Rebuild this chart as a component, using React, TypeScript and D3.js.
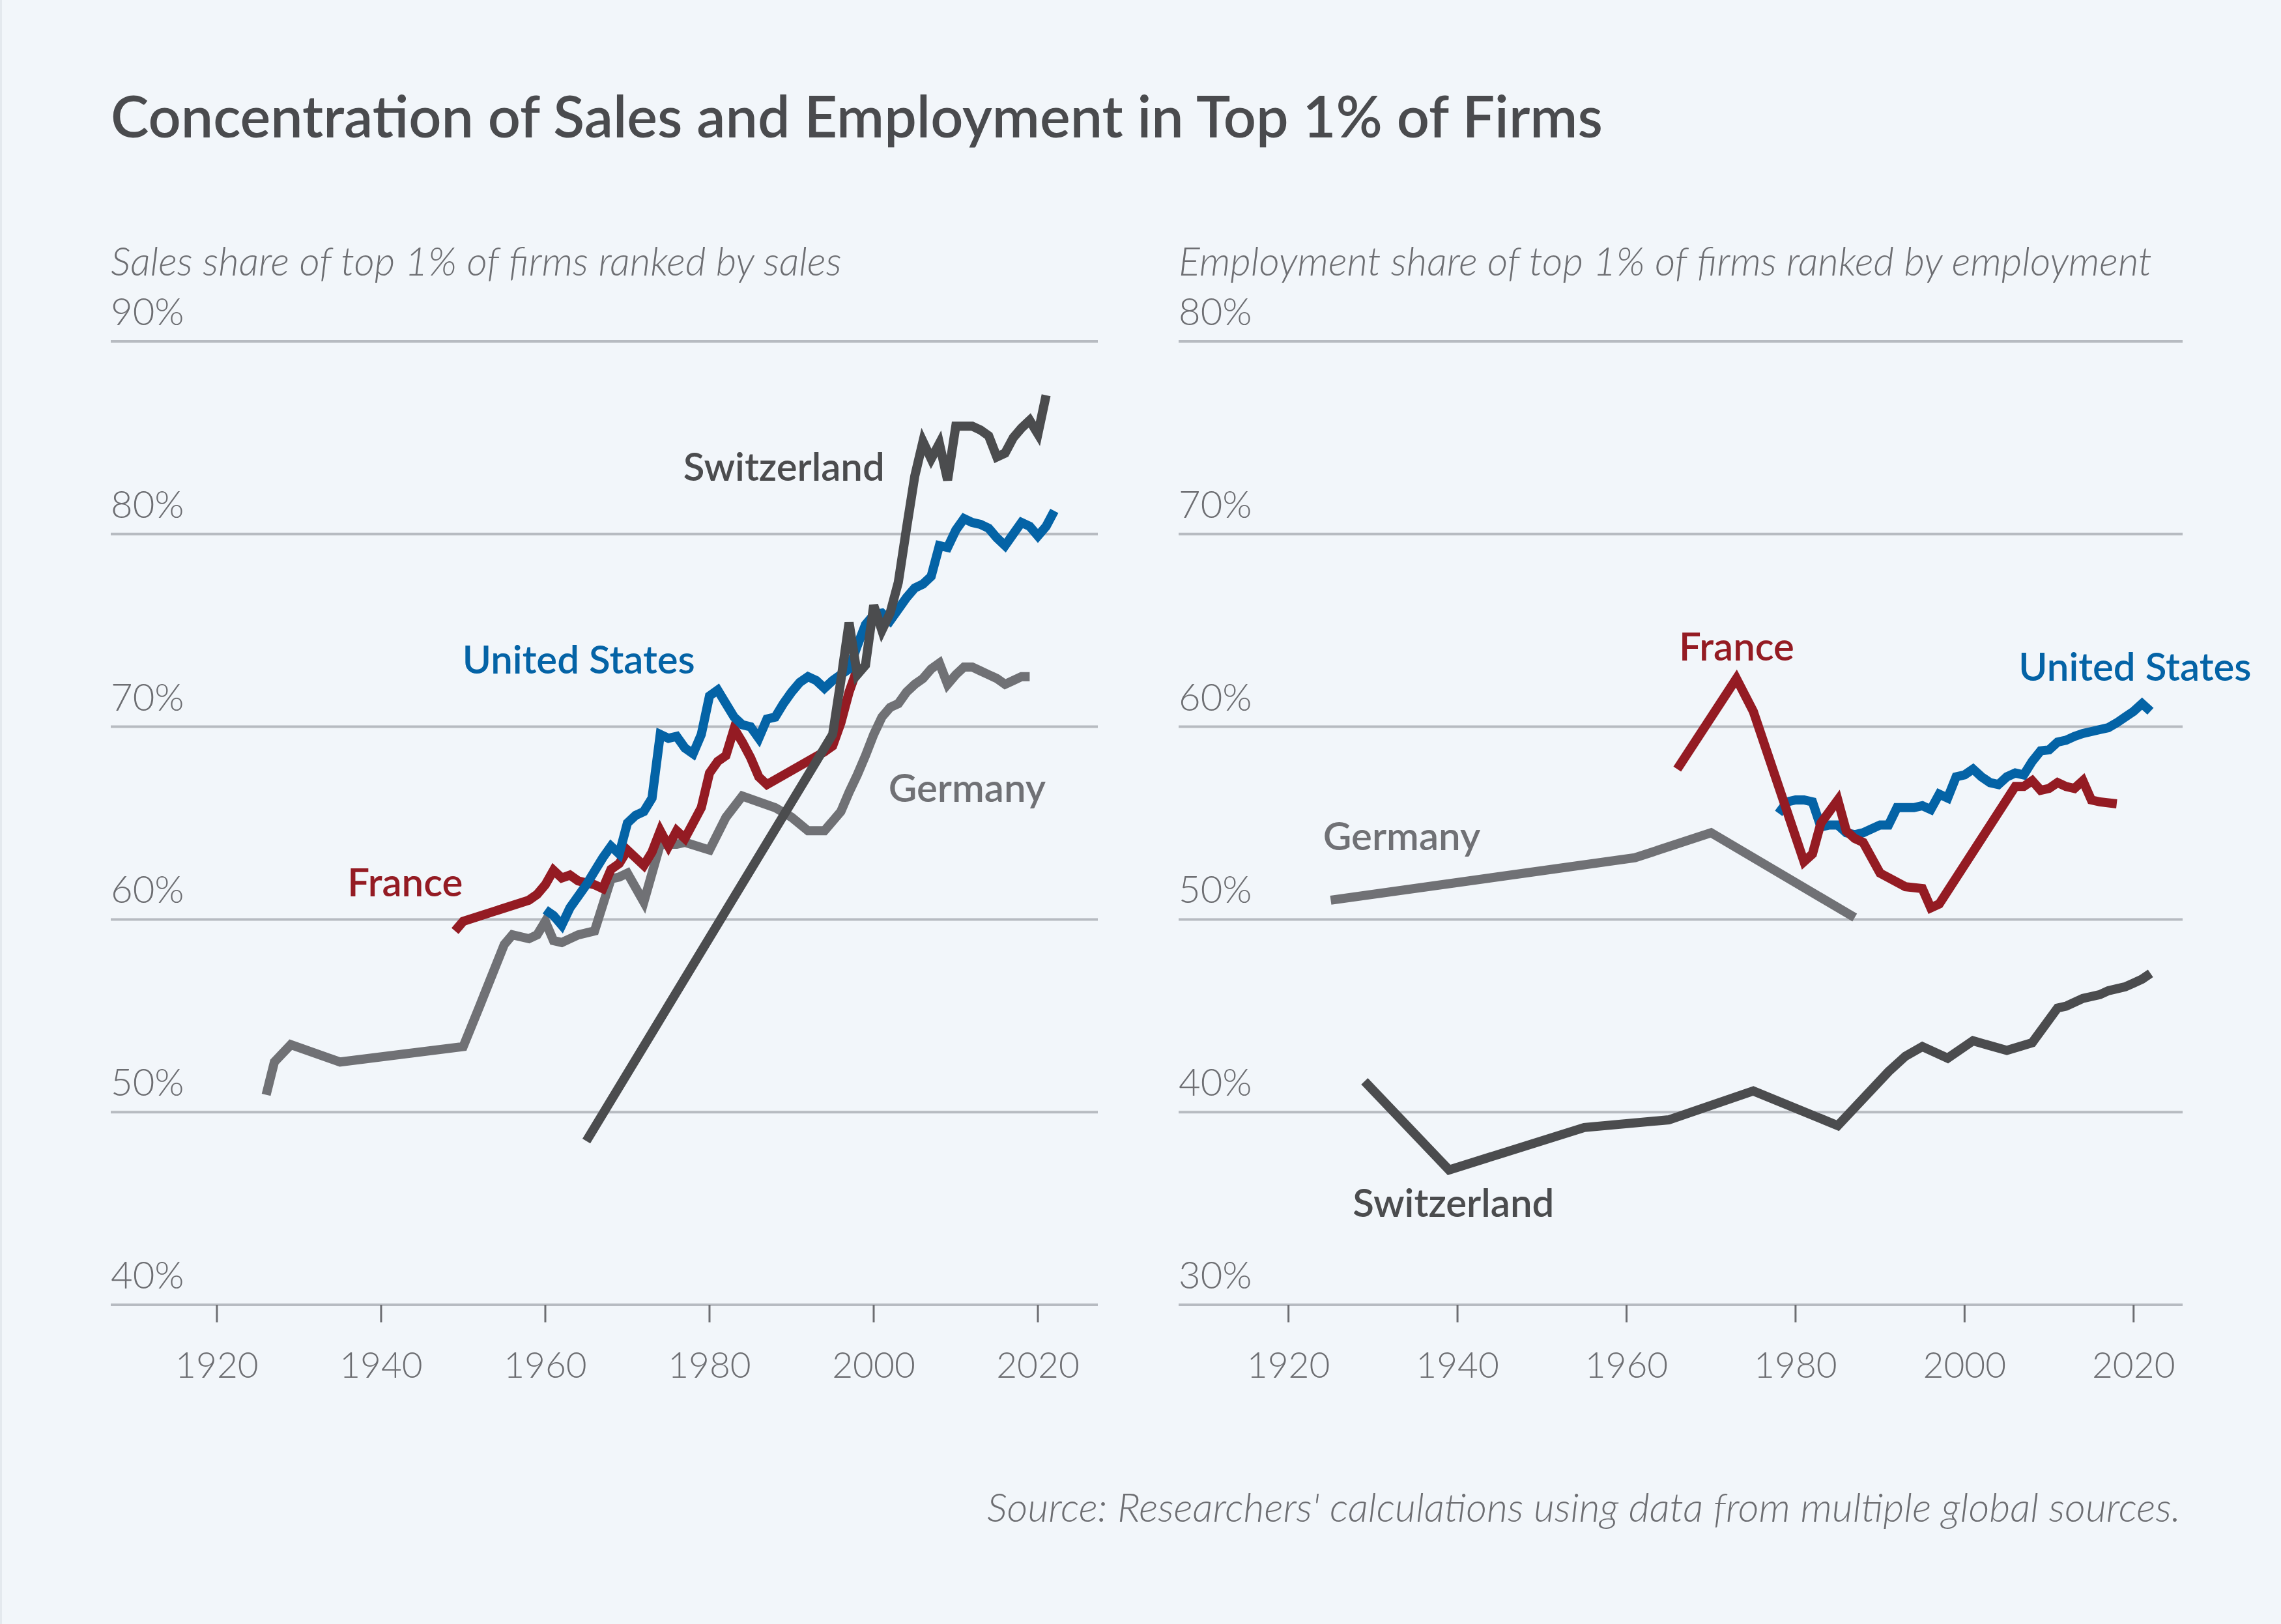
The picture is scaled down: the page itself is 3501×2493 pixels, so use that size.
import * as d3 from "d3";

type Pt = [number, number];

// ---- text ----
const chartTitle = "Concentration of Sales and Employment in Top 1% of Firms";
const salesSubtitle = "Sales share of top 1% of firms ranked by sales";
const employmentSubtitle = "Employment share of top 1% of firms ranked by employment";
const sourceNote = "Source: Researchers' calculations using data from multiple global sources.";

// ---- axes ----
const yearTicks = [1920, 1940, 1960, 1980, 2000, 2020];
const salesTicks = [40, 50, 60, 70, 80, 90];
const employmentTicks = [30, 40, 50, 60, 70, 80];

// ---- sales share (left panel) ----
const salesUS: Pt[] = [
    [1960, 60.5], [1961, 60.2], [1962, 59.7], [1963, 60.6], [1964, 61.2], [1965, 61.8], [1966, 62.5], [1967, 63.2],
    [1968, 63.8], [1969, 63.4], [1970, 65.0], [1971, 65.4], [1972, 65.6], [1973, 66.3], [1974, 69.6], [1975, 69.4],
    [1976, 69.5], [1977, 68.9], [1978, 68.6], [1979, 69.6], [1980, 71.6], [1981, 71.9], [1982, 71.2], [1983, 70.5],
    [1984, 70.1], [1985, 70.0], [1986, 69.4], [1987, 70.4], [1988, 70.5], [1989, 71.2], [1990, 71.8], [1991, 72.3],
    [1992, 72.6], [1993, 72.4], [1994, 72.0], [1995, 72.4], [1996, 72.7], [1997, 73.0], [1998, 74.2], [1999, 75.3],
    [2000, 75.8], [2001, 75.9], [2002, 75.5], [2003, 76.1], [2004, 76.7], [2005, 77.2], [2006, 77.4], [2007, 77.8],
    [2008, 79.4], [2009, 79.3], [2010, 80.2], [2011, 80.8], [2012, 80.6], [2013, 80.5], [2014, 80.3], [2015, 79.8],
    [2016, 79.4], [2017, 80.0], [2018, 80.6], [2019, 80.4], [2020, 79.9], [2021, 80.4], [2022, 81.2],
];
const salesFrance: Pt[] = [
    [1949, 59.4], [1950, 59.9], [1958, 61.0], [1959, 61.3], [1960, 61.8], [1961, 62.55], [1962, 62.15], [1963, 62.3],
    [1964, 62.0], [1965, 61.9], [1966, 61.8], [1967, 61.6], [1968, 62.6], [1969, 62.9], [1970, 63.6], [1971, 63.2],
    [1972, 62.8], [1973, 63.5], [1974, 64.6], [1975, 63.8], [1976, 64.6], [1977, 64.2], [1978, 65.0], [1979, 65.8],
    [1980, 67.6], [1981, 68.2], [1982, 68.5], [1983, 69.9], [1984, 69.2], [1985, 68.4], [1986, 67.4], [1987, 67.0],
    [1994, 68.7], [1995, 69.0], [1996, 70.2], [1997, 71.8], [1998, 73.0],
];
const salesGermany: Pt[] = [
    [1926, 50.9], [1927, 52.6], [1929, 53.5], [1935, 52.6], [1950, 53.4], [1952, 55.5], [1955, 58.7], [1956, 59.2],
    [1957, 59.1], [1958, 59.0], [1959, 59.2], [1960, 59.9], [1961, 58.9], [1962, 58.8], [1963, 59.0], [1964, 59.2],
    [1965, 59.3], [1966, 59.4], [1968, 62.1], [1969, 62.2], [1970, 62.4], [1972, 60.9], [1974, 63.9], [1975, 63.9],
    [1976, 63.9], [1977, 64.0], [1980, 63.6], [1982, 65.3], [1984, 66.4], [1988, 65.8], [1990, 65.3], [1992, 64.6],
    [1994, 64.6], [1996, 65.6], [1997, 66.6], [1998, 67.5], [1999, 68.5], [2000, 69.6], [2001, 70.5], [2002, 71.0],
    [2003, 71.2], [2004, 71.8], [2005, 72.2], [2006, 72.5], [2007, 73.0], [2008, 73.3], [2009, 72.2], [2010, 72.7],
    [2011, 73.1], [2012, 73.1], [2013, 72.9], [2014, 72.7], [2015, 72.5], [2016, 72.2], [2017, 72.4], [2018, 72.6],
    [2019, 72.6],
];
const salesSwitzerland: Pt[] = [
    [1965, 48.5], [1995, 69.6], [1996, 72.4], [1997, 75.4], [1998, 72.7], [1999, 73.2], [2000, 76.3], [2001, 75.0],
    [2002, 75.9], [2003, 77.5], [2004, 80.3], [2005, 83.0], [2006, 84.8], [2007, 83.9], [2008, 84.7], [2009, 82.8],
    [2010, 85.6], [2011, 85.6], [2012, 85.6], [2013, 85.4], [2014, 85.1], [2015, 84.0], [2016, 84.2], [2017, 85.0],
    [2018, 85.5], [2019, 85.9], [2020, 85.2], [2021, 87.2],
];

// ---- employment share (right panel) ----
const empUS: Pt[] = [
    [1978, 55.5], [1979, 56.1], [1980, 56.2], [1981, 56.2], [1982, 56.1], [1983, 54.8], [1984, 54.9], [1985, 54.9],
    [1986, 54.5], [1987, 54.4], [1988, 54.5], [1989, 54.7], [1990, 54.9], [1991, 54.9], [1992, 55.8], [1993, 55.8],
    [1994, 55.8], [1995, 55.9], [1996, 55.7], [1997, 56.5], [1998, 56.3], [1999, 57.4], [2000, 57.5], [2001, 57.8],
    [2002, 57.4], [2003, 57.1], [2004, 57.0], [2005, 57.4], [2006, 57.6], [2007, 57.5], [2008, 58.2], [2009, 58.75],
    [2010, 58.8], [2011, 59.2], [2012, 59.3], [2013, 59.5], [2014, 59.65], [2015, 59.75], [2016, 59.85], [2017, 59.95],
    [2018, 60.2], [2019, 60.5], [2020, 60.8], [2021, 61.2], [2022, 60.8],
];
const empFrance: Pt[] = [
    [1966, 57.8], [1973, 62.5], [1975, 60.8], [1981, 53.0], [1982, 53.4], [1983, 55.0], [1985, 56.2], [1986, 54.6],
    [1987, 54.2], [1988, 54.0], [1990, 52.4], [1993, 51.7], [1995, 51.6], [1996, 50.6], [1997, 50.8], [2006, 56.9],
    [2007, 56.9], [2008, 57.2], [2009, 56.7], [2010, 56.8], [2011, 57.1], [2012, 56.9], [2013, 56.8], [2014, 57.2],
    [2015, 56.2], [2016, 56.1], [2018, 56.0],
];
const empGermany: Pt[] = [[1925, 51.0], [1961, 53.2], [1970, 54.5], [1987, 50.1]];
const empSwitzerland: Pt[] = [
    [1929, 41.6], [1939, 37.0], [1955, 39.2], [1965, 39.6], [1975, 41.1], [1985, 39.3], [1991, 42.1], [1993, 42.9],
    [1995, 43.4], [1998, 42.8], [2001, 43.7], [2005, 43.2], [2008, 43.6], [2011, 45.4], [2012, 45.5], [2013, 45.7],
    [2014, 45.9], [2015, 46.0], [2016, 46.1], [2017, 46.3], [2018, 46.4], [2019, 46.5], [2020, 46.7], [2021, 46.9],
    [2022, 47.2],
];

const colors = {
    bg: "#f2f6fa",
    title: "#4a4b4e",
    muted: "#6d6e72",
    grid: "#b7bbc1",
    us: "#0463a6",
    france: "#941b23",
    germany: "#707175",
    switzerland: "#4b4c4e",
};

const FONT = "Lato, 'Noto Sans', sans-serif";
const W = 3501, H = 2493;
const TOP = 524, BOTTOM = 2003;

type Series = { name: string, data: Pt[], color: string, label: Pt };

function Panel({x0, x1, xDomain, yDomain, yTicks, subtitle, series}: {
    x0: number, x1: number, xDomain: [number, number], yDomain: [number, number],
    yTicks: number[], subtitle: string, series: Series[]
}) {
    const x = d3.scaleLinear(xDomain, [x0, x1]);
    const y = d3.scaleLinear(yDomain, [BOTTOM, TOP]);
    const line = d3.line<Pt>().x(d => x(d[0])).y(d => y(d[1]));

    return <g>
        <text x={x0} y={423} fontFamily={FONT} fontStyle="italic" fontWeight={300} fontSize={61}
              fill={colors.muted}>{subtitle}</text>
        {yTicks.map(t => <g key={t}>
            <line x1={x0} x2={x1} y1={y(t)} y2={y(t)} stroke={colors.grid} strokeWidth={4}/>
            <text x={x0} y={y(t) - 25} fontFamily={FONT} fontSize={58} fontWeight={300}
                  fill={colors.muted}>{t}%</text>
        </g>)}
        {yearTicks.map(t => <g key={t}>
            <line x1={x(t)} x2={x(t)} y1={BOTTOM} y2={BOTTOM + 27} stroke={colors.muted} strokeWidth={3}/>
            <text x={x(t)} y={2115} textAnchor="middle" fontFamily={FONT} fontSize={55} fontWeight={300}
                  fill={colors.muted}>{t}</text>
        </g>)}
        {series.map(s => <path key={s.name} d={line(s.data) ?? ""} fill="none" stroke={s.color}
                               strokeWidth={14}/>)}
        {series.map(s => <text key={s.name} x={x(s.label[0])} y={y(s.label[1])} fontFamily={FONT}
                               fontWeight={600} fontSize={60} fill={s.color}>{s.name}</text>)}
    </g>
}

export default function App() {
    const salesSeries: Series[] = [
        {name: "Germany", data: salesGermany, color: colors.germany, label: [2001.8, 66.1]},
        {name: "France", data: salesFrance, color: colors.france, label: [1935.9, 61.2]},
        {name: "United States", data: salesUS, color: colors.us, label: [1949.9, 72.76]},
        {name: "Switzerland", data: salesSwitzerland, color: colors.switzerland, label: [1976.8, 82.77]},
    ];
    const employmentSeries: Series[] = [
        {name: "Germany", data: empGermany, color: colors.germany, label: [1924.1, 53.6]},
        {name: "Switzerland", data: empSwitzerland, color: colors.switzerland, label: [1927.6, 34.56]},
        {name: "United States", data: empUS, color: colors.us, label: [2006.4, 62.39]},
        {name: "France", data: empFrance, color: colors.france, label: [1966.2, 63.45]},
    ];

    return <svg width={W} height={H} viewBox={`0 0 ${W} ${H}`}
                style={{position: "absolute", left: 0, top: 0, display: "block"}}>
        <rect width={W} height={H} fill={colors.bg}/>
        <rect x={0} y={0} width={3} height={H} fill="#e4e9ee"/>
        <text x={170} y={211} fontFamily={FONT} fontWeight={600} fontSize={88}
              fill={colors.title}>{chartTitle}</text>
        <Panel x0={170} x1={1685} xDomain={[1907.07, 2027.3]} yDomain={[40, 90]} yTicks={salesTicks}
               subtitle={salesSubtitle} series={salesSeries}/>
        <Panel x0={1809} x1={3350} xDomain={[1907.0, 2025.8]} yDomain={[30, 80]} yTicks={employmentTicks}
               subtitle={employmentSubtitle} series={employmentSeries}/>
        <text x={3347} y={2336} textAnchor="end" fontFamily={FONT} fontStyle="italic" fontWeight={300}
              fontSize={62} fill={colors.muted}>{sourceNote}</text>
    </svg>
}
